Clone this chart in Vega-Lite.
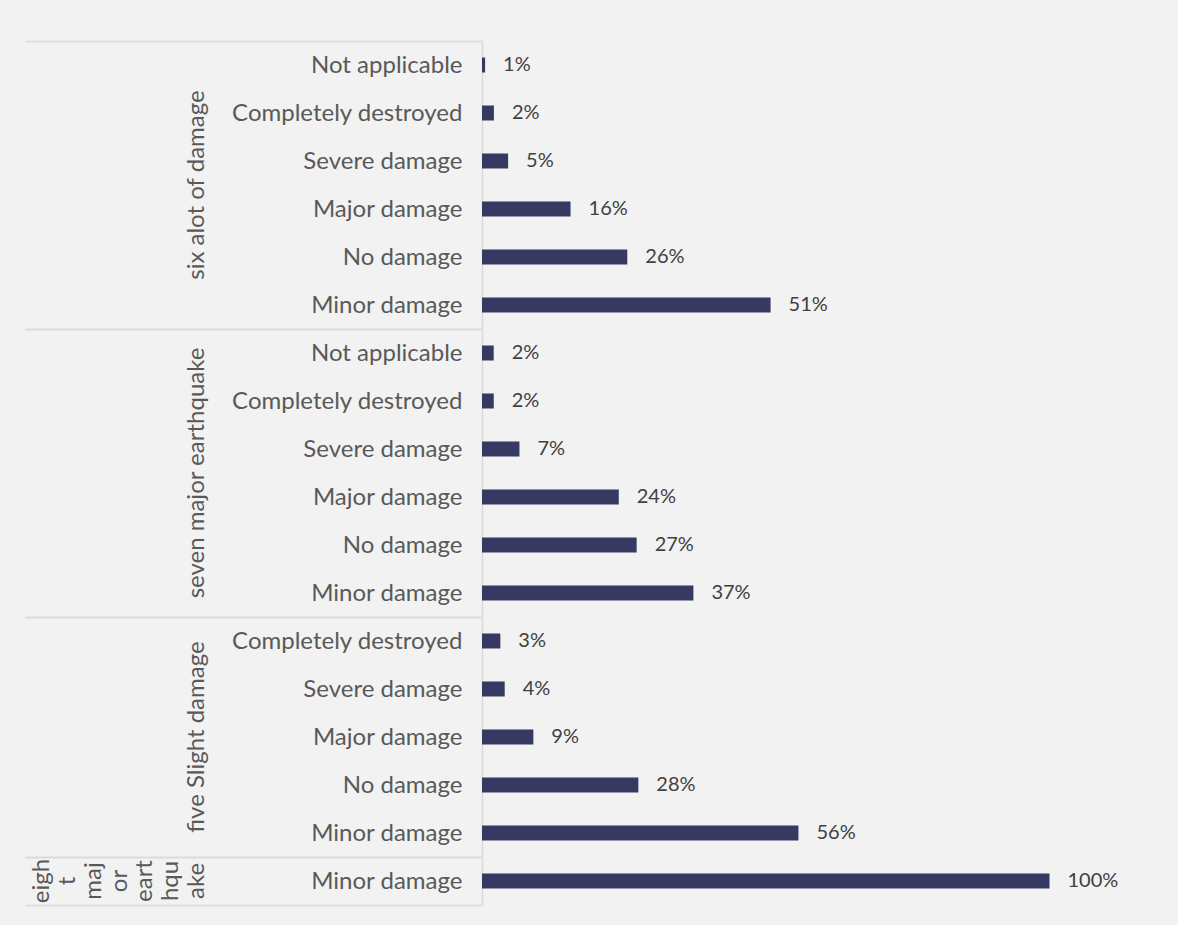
{
  "$schema": "https://vega.github.io/schema/vega-lite/v6.json",
  "background": "#f2f2f2",
  "padding": {"left": 24, "top": 40, "right": 15, "bottom": 21},
  "data": {
    "values": [
      {"group": "six alot of damage", "damage": "Not applicable", "value": 0.0055},
      {"group": "six alot of damage", "damage": "Completely destroyed", "value": 0.021},
      {"group": "six alot of damage", "damage": "Severe damage", "value": 0.046},
      {"group": "six alot of damage", "damage": "Major damage", "value": 0.156},
      {"group": "six alot of damage", "damage": "No damage", "value": 0.256},
      {"group": "six alot of damage", "damage": "Minor damage", "value": 0.5085},
      {"group": "seven major earthquake", "damage": "Not applicable", "value": 0.0206},
      {"group": "seven major earthquake", "damage": "Completely destroyed", "value": 0.0207},
      {"group": "seven major earthquake", "damage": "Severe damage", "value": 0.066},
      {"group": "seven major earthquake", "damage": "Major damage", "value": 0.241},
      {"group": "seven major earthquake", "damage": "No damage", "value": 0.2725},
      {"group": "seven major earthquake", "damage": "Minor damage", "value": 0.3725},
      {"group": "five Slight damage", "damage": "Completely destroyed", "value": 0.0323},
      {"group": "five Slight damage", "damage": "Severe damage", "value": 0.04},
      {"group": "five Slight damage", "damage": "Major damage", "value": 0.0905},
      {"group": "five Slight damage", "damage": "No damage", "value": 0.2755},
      {"group": "five Slight damage", "damage": "Minor damage", "value": 0.5576},
      {"group": "eight major earthquake", "damage": "Minor damage", "value": 1.0}
    ]
  },
  "facet": {
    "row": {
      "field": "group",
      "type": "nominal",
      "sort": ["six alot of damage", "seven major earthquake", "five Slight damage", "eight major earthquake"],
      "title": null,
      "header": {
        "labelAngle": 270,
        "labelOrient": "left",
        "labelAnchor": "middle",
        "labelAlign": "center",
        "labelBaseline": "bottom",
        "labelPadding": 249,
        "labelFont": "Lato",
        "labelFontSize": 24,
        "labelColor": "#595959",
        "labelLineHeight": 25.8,
        "labelExpr": "datum.value === 'eight major earthquake' ? ['eigh', 't', 'maj', 'or', 'eart', 'hqu', 'ake'] : datum.value"
      }
    }
  },
  "spacing": 0,
  "bounds": "flush",
  "resolve": {"scale": {"y": "independent"}},
  "spec": {
    "width": 681,
    "height": {"step": 48},
    "encoding": {
      "y": {
        "field": "damage",
        "type": "nominal",
        "sort": {"field": "value", "order": "ascending"},
        "scale": {"paddingInner": 0, "paddingOuter": 0},
        "axis": {
          "title": null,
          "domainColor": "#d9d9d9",
          "domainWidth": 1.5,
          "tickBand": "extent",
          "tickSize": 457,
          "tickColor": "#d9d9d9",
          "tickWidth": 1.5,
          "tickOpacity": {"condition": {"test": "datum.extra || datum.index === -1 || datum.value === 'Minor damage'", "value": 1}, "value": 0},
          "labelPadding": -437,
          "labelFont": "Lato",
          "labelFontSize": {"condition": {"test": "datum.extra || datum.index === -1", "value": 0}, "value": 24},
          "labelColor": "#595959",
          "labelLimit": 0
        }
      },
      "x": {
        "field": "value",
        "type": "quantitative",
        "scale": {"domain": [0, 1.2], "nice": false, "zero": true},
        "axis": null
      }
    },
    "layer": [
      {"mark": {"type": "bar", "color": "#363961", "size": 15}},
      {
        "mark": {"type": "text", "align": "left", "baseline": "middle", "dx": 18, "font": "Lato", "fontSize": 20, "color": "#404040"},
        "encoding": {"text": {"field": "value", "type": "quantitative", "format": ".0%"}}
      }
    ]
  },
  "config": {"view": {"stroke": null}}
}
